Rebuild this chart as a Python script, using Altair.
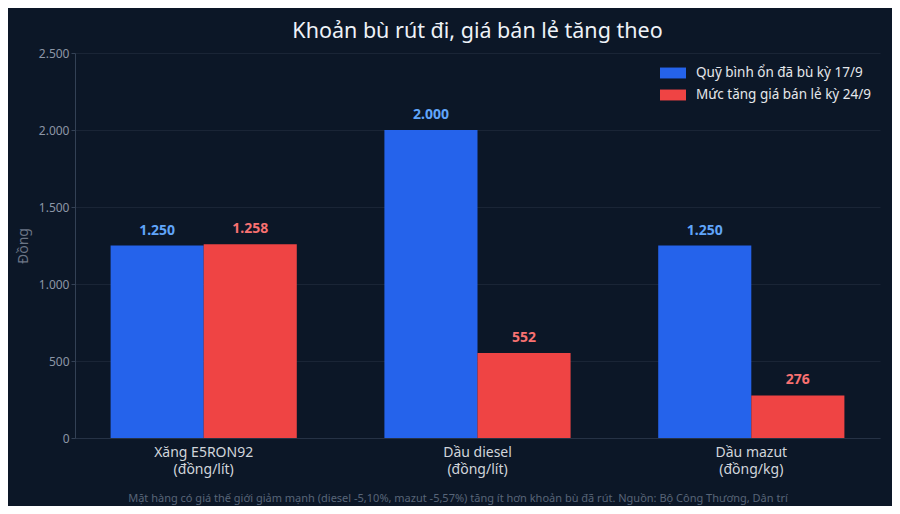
import altair as alt
import pandas as pd

# chart data
categories = ["Xăng E5RON92|(đồng/lít)", "Dầu diesel|(đồng/lít)", "Dầu mazut|(đồng/kg)"]
series = ["Quỹ bình ổn đã bù kỳ 17/9", "Mức tăng giá bán lẻ kỳ 24/9"]
fund_values = [1250, 2000, 1250]
increase_values = [1258, 552, 276]
y_ticks = [0, 500, 1000, 1500, 2000, 2500]

bar_colors = ["#2563eb", "#ef4444"]
label_colors = ["#60a5fa", "#f87171"]

TITLE = "Khoản bù rút đi, giá bán lẻ tăng theo"
Y_TITLE = "Đồng"
FOOTER = ("Mặt hàng có giá thế giới giảm mạnh (diesel -5,10%, mazut -5,57%) "
          "tăng ít hơn khoản bù đã rút. Nguồn: Bộ Công Thương, Dân trí")
BG = "#0c1727"

rows = []
for cat, a, b in zip(categories, fund_values, increase_values):
    rows.append(dict(category=cat, series=series[0], value=a, lcolor=label_colors[0]))
    rows.append(dict(category=cat, series=series[1], value=b, lcolor=label_colors[1]))
df = pd.DataFrame(rows)

# vietnamese style thousands separator
dot_fmt = "replace(format({}, ',d'), ',', '.')"

base = alt.Chart(df).encode(
    x=alt.X(
        "category:N",
        sort=categories,
        title=None,
        scale=alt.Scale(paddingInner=0.32, paddingOuter=0.13),
        axis=alt.Axis(
            labelExpr="split(datum.label, '|')",
            labelAngle=0,
            labelFontSize=14,
            labelColor="#d1d5db",
            labelPadding=7,
            labelLineHeight=17,
            ticks=False,
            domainColor="#263245",
        ),
    ),
    xOffset=alt.XOffset("series:N", sort=series),
    y=alt.Y(
        "value:Q",
        title=Y_TITLE,
        scale=alt.Scale(domain=[0, 2500], nice=False),
        axis=alt.Axis(
            values=y_ticks,
            labelExpr=dot_fmt.format("datum.value"),
            labelFontSize=12,
            labelColor="#8c96a6",
            titleFontSize=14,
            titleFontWeight="normal",
            titleColor="#6b7585",
            titlePadding=8,
            tickSize=4,
            domainColor="#334155",
            tickColor="#334155",
            gridColor="#1a2536",
        ),
    ),
)

bars = base.mark_bar().encode(
    color=alt.Color(
        "series:N",
        sort=series,
        scale=alt.Scale(domain=series, range=bar_colors),
        legend=alt.Legend(
            title=None,
            orient="none",
            legendX=585,
            legendY=7,
            symbolType="M-1,-0.42H1V0.42H-1Z",
            symbolSize=676,
            symbolStrokeWidth=0,
            labelFontSize=13.5,
            labelColor="#e5e7eb",
            labelOffset=10,
            labelLimit=300,
            rowPadding=2,
        ),
    )
)

labels = base.transform_calculate(
    label=dot_fmt.format("datum.value")
).mark_text(
    baseline="bottom", dy=-8, fontSize=14, fontWeight="bold"
).encode(
    text="label:N",
    color=alt.Color("lcolor:N", scale=None),
)

footer = alt.Chart(alt.Data(values=[{"t": FOOTER}])).mark_text(
    fontSize=11, color="#586578", baseline="middle", align="center"
).encode(
    text="t:N",
    x=alt.value(383),
    y=alt.value(446),
)

chart = (
    alt.layer(bars, labels, footer)
    .resolve_scale(color="independent")
    .properties(
        width=805,
        height=385,
        autosize=alt.AutoSizeParams(type="none"),
        padding={"left": 67, "top": 45, "right": 12, "bottom": 68},
        title=alt.TitleParams(
            TITLE, fontSize=21.5, fontWeight="normal", color="#eef2f7",
            anchor="middle", offset=5,
        ),
    )
    .configure(background=BG, font="Noto Sans")
    .configure_view(stroke=None)
)

chart.save("out.html", embed_options={"renderer": "svg", "actions": False})
